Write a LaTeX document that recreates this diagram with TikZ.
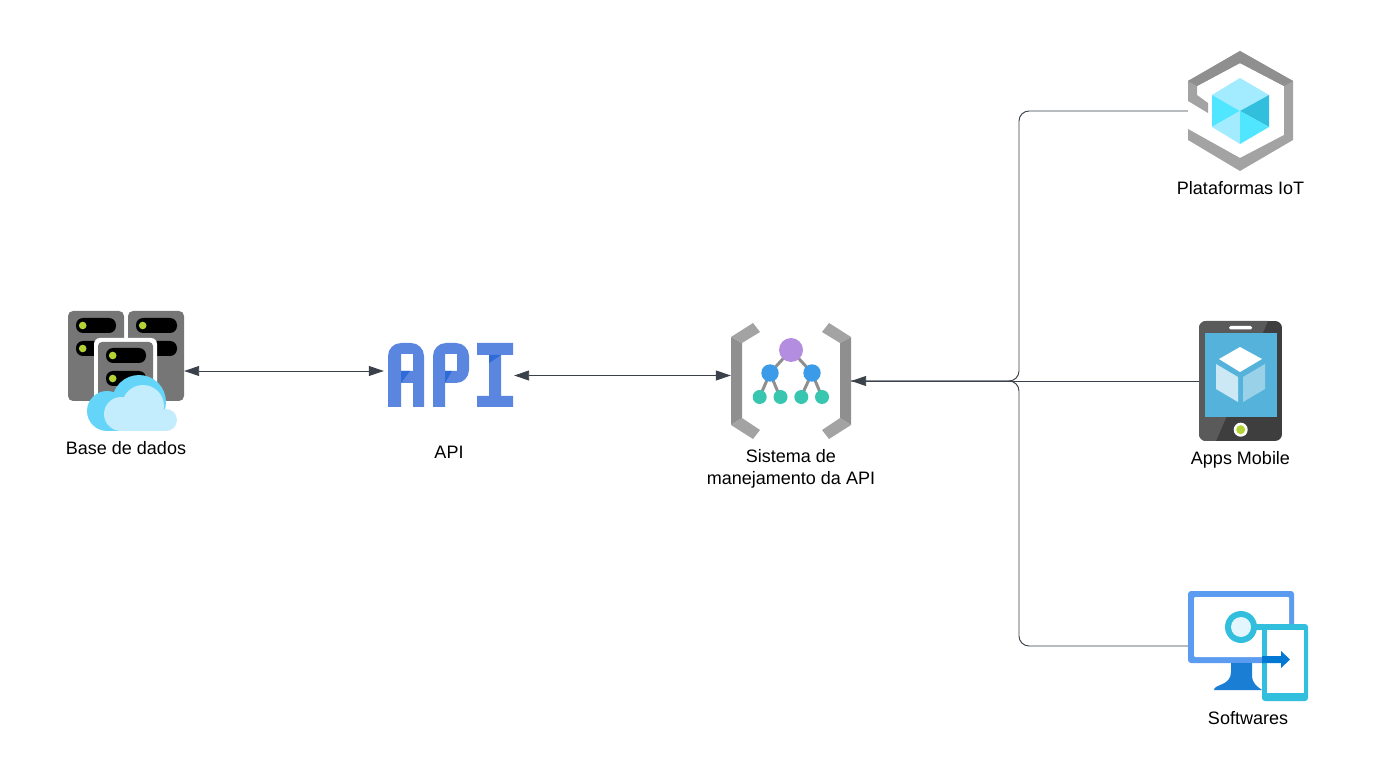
\documentclass[tikz,border=0pt]{standalone}
\usepackage{fontspec}
\setmainfont{Liberation Sans}
\usetikzlibrary{arrows.meta}
\definecolor{linkgray}{HTML}{3A414A}
\definecolor{rackgray}{HTML}{767676}
\definecolor{lime}{HTML}{B4D335}
\definecolor{cloudblue}{HTML}{64D5F8}
\definecolor{cloudpale}{HTML}{C3ECFD}
\definecolor{apiblue}{HTML}{5B86E0}
\definecolor{apidark}{HTML}{2E6AD8}
\definecolor{steel}{HTML}{8F8F8F}
\definecolor{steelpale}{HTML}{A3A3A3}
\definecolor{treepurple}{HTML}{B38DE0}
\definecolor{treeblue}{HTML}{3B9BE8}
\definecolor{treeteal}{HTML}{38C6B0}
\definecolor{cubepale}{HTML}{A3ECFF}
\definecolor{cubecyan}{HTML}{50E6FF}
\definecolor{cubedark}{HTML}{32BEDD}
\definecolor{phonedark}{HTML}{3E3E3E}
\definecolor{phonelight}{HTML}{5A5A5A}
\definecolor{phonescreen}{HTML}{55B3DB}
\definecolor{screenblue}{HTML}{5B9CF0}
\definecolor{standblue}{HTML}{1A7FD4}
\definecolor{arrowblue}{HTML}{0078D4}
\definecolor{lenspale}{HTML}{E3F6FD}
\tikzset{
  iconbox/.style 2 args={rectangle,inner sep=0pt,minimum width=#1,minimum height=#2},
  caption/.style={font=\fontsize{18}{22}\selectfont,align=center,text=black,inner sep=0pt},
  link/.style={draw=linkgray,line width=0.95pt},
  tip/.tip={Triangle[length=15pt,width=10pt]},
}
\begin{document}
\begin{tikzpicture}[x=1pt,y=-1pt]
  \useasboundingbox (0,0) rectangle (1377,783);
  \node[iconbox={116pt}{120pt}] (db) at (126,371) {};
  \node[iconbox={130pt}{64pt}] (api) at (449,375.5) {};
  \node[iconbox={120pt}{116pt}] (mgr) at (791,381) {};
  \node[iconbox={105pt}{120pt}] (iot) at (1240.5,111) {};
  \node[iconbox={83pt}{120pt}] (phone) at (1240.5,381) {};
  \node[iconbox={120pt}{110pt}] (soft) at (1248,646) {};
  \coordinate (bus) at (1019,381);
  % connectors
  \draw[link,{tip}-{tip}] (db.east) -- (db.east -| api.west);
  \draw[link,{tip}-{tip}] (api.east) -- (api.east -| mgr.west);
  \draw[link,{tip}-] (mgr.east) -- (phone.west);
  \draw[link,rounded corners=10pt] (mgr.east) -- (bus) -- (bus |- iot.west) -- (iot.west);
  \draw[link,rounded corners=10pt] (mgr.east) -- (bus) -- (bus |- soft.west) -- (soft.west);
  % base de dados
  \begin{scope}
    \foreach \x in {68,128} {
      \fill[rackgray,rounded corners=5pt] (\x,311) rectangle (\x+56,401);
    }
    \foreach \x/\w in {76/40,136/41} {
      \foreach \y in {318,341} {
        \fill[black,rounded corners=7pt] (\x,\y) rectangle (\x+\w,\y+15);
        \fill[lime] (\x+6.7,\y+7.5) circle (3.8pt);
      }
    }
    \fill[white,rounded corners=6pt] (94,338) rectangle (157,408);
    \fill[rackgray,rounded corners=4pt] (98,342) rectangle (153,408);
    \foreach \y in {348,371} {
      \fill[black,rounded corners=7pt] (106,\y) rectangle (146,\y+15);
      \fill[lime] (112.7,\y+7.5) circle (3.8pt);
    }
    \fill[cloudblue] (107,411) circle (20pt) (139,402) circle (27pt) (107,410) rectangle (150,431);
    \fill[cloudpale] (121,414) circle (17pt) (143,406) circle (21pt) (166,420) circle (11pt) (121,415) rectangle (166,431);
  \end{scope}
  % api
  \begin{scope}
    \fill[apiblue,even odd rule] (388,407) [rounded corners=13pt] -- (388,343) -- (424,343) [sharp corners] -- (424,407)
      -- (413,407) -- (413,383) -- (401,383) -- (401,407) -- cycle
      (401,354) rectangle (413,371);
    \fill[apiblue,even odd rule] (433,407) [rounded corners=13pt] -- (433,343) -- (469,343) -- (469,383) [sharp corners] -- (445,383)
      -- (445,407) -- cycle
      (445,354) rectangle (457,371);
    \fill[apiblue] (477,343) rectangle (513,355) (489,355) rectangle (501,396) (477,396) rectangle (513,407);
    \fill[apidark] (401,371) -- (410,371) -- (401,383) -- cycle;
    \fill[apidark] (445,371) -- (452,371) -- (445,383) -- cycle;
    \fill[apidark] (489,355) -- (501,355) -- (489,363) -- cycle;
  \end{scope}
  % sistema de manejamento
  \begin{scope}
    \foreach \m/\s in {731/1,851/-1} {
      \fill[steel] (\m,337) -- (\m+\s*11,343) -- (\m+\s*11,418) -- (\m,425) -- cycle;
      \fill[steelpale] (\m,337) -- (\m+\s*22,323) -- (\m+\s*29,332) -- (\m+\s*11,343) -- cycle;
      \fill[steelpale] (\m,425) -- (\m+\s*11,418) -- (\m+\s*29,430) -- (\m+\s*22,439) -- cycle;
    }
    \draw[steel,line width=3pt] (759.7,397) -- (770,373) -- (780,397);
    \draw[steel,line width=3pt] (801,397) -- (812,373) -- (822,397);
    \draw[steel,line width=3pt] (770,373) -- (791,350) -- (812,373);
    \fill[treepurple] (791,350) circle (12pt);
    \foreach \x in {770,812} {
      \fill[treeblue] (\x,373) circle (8.7pt);
    }
    \foreach \x in {759.7,780.5,801.3,822} {
      \fill[treeteal] (\x,397) circle (7pt);
    }
  \end{scope}
  % plataformas iot
  \begin{scope}
    \fill[steelpale] (1188,81) -- (1240,51) -- (1293,81) -- (1293,140) -- (1240,171) -- (1188,140) -- (1188,129) -- (1240,158)
      -- (1284,135) -- (1284,86) -- (1240,63) -- (1197,86) -- (1197,95) -- (1208,103) -- (1208,113) -- (1188,101) -- cycle;
    \fill[steel] (1188,81) -- (1240,51) -- (1293,81) -- (1284,86) -- (1240,63) -- (1197,86) -- cycle;
    \fill[cubepale] (1240,78) -- (1269,95) -- (1240,111) -- (1212,95) -- cycle;
    \fill[cubecyan] (1212,95) -- (1240,111) -- (1212,127) -- cycle;
    \fill[cubedark] (1269,95) -- (1240,111) -- (1269,127) -- cycle;
    \fill[cubepale] (1212,127) -- (1240,111) -- (1240,144) -- cycle;
    \fill[cubecyan] (1269,127) -- (1240,111) -- (1240,144) -- cycle;
  \end{scope}
  % apps mobile
  \begin{scope}
    \begin{scope}
      \clip[rounded corners=7pt] (1199,321) rectangle (1282,441);
      \fill[phonedark] (1199,321) rectangle (1282,441);
      \fill[phonelight] (1199,321) -- (1268,321) -- (1216,441) -- (1199,441) -- cycle;
    \end{scope}
    \fill[phonescreen] (1205,333) rectangle (1277,417);
    \fill[white,rounded corners=1.5pt] (1229,326) rectangle (1252,329.5);
    \fill[white] (1240.7,429.7) circle (7pt);
    \fill[lime] (1240.7,429.7) circle (4.5pt);
    \fill[white] (1240,347) -- (1262,359) -- (1240,372) -- (1219,359) -- cycle;
    \fill[white!70!phonescreen] (1216,364) -- (1238,377) -- (1238,402) -- (1216,389) -- cycle;
    \fill[white!40!phonescreen] (1243,377) -- (1265,364) -- (1265,389) -- (1243,402) -- cycle;
  \end{scope}
  % softwares
  \begin{scope}
    \fill[screenblue,rounded corners=3pt] (1188,591) rectangle (1294,663);
    \fill[white,rounded corners=1pt] (1194,597) rectangle (1289,657);
    \fill[standblue] (1231,663) -- (1252,663) -- (1252,675) .. controls (1252,684) and (1258,687) .. (1262,690)
      -- (1214,690) .. controls (1214,684) and (1231,686) .. (1231,672) -- cycle;
    \fill[cubedark] (1250,624) rectangle (1264,630);
    \fill[cubedark,rounded corners=3pt] (1262,624) rectangle (1308,701);
    \fill[white] (1267,630) rectangle (1304,693);
    \fill[cubedark] (1241,627) circle (16pt);
    \fill[lenspale] (1241,627) circle (10pt);
    \fill[arrowblue] (1262,656) -- (1281,656) -- (1281,651) -- (1290,659.5) -- (1281,668) -- (1281,663) -- (1262,663) -- cycle;
  \end{scope}
  % labels
  \node[caption] (dblabel) at (126,448.5) {Base de dados};
  \node[caption] (apilabel) at (449,452.5) {API};
  \node[caption] (mgrlabel) at (791,468.5) {Sistema de\\manejamento da API};
  \node[caption] (iotlabel) at (1240.5,188.5) {Plataformas IoT};
  \node[caption] (phonelabel) at (1240.5,460) {Apps Mobile};
  \node[caption] (softlabel) at (1248,718.5) {Softwares};
\end{tikzpicture}
\end{document}
